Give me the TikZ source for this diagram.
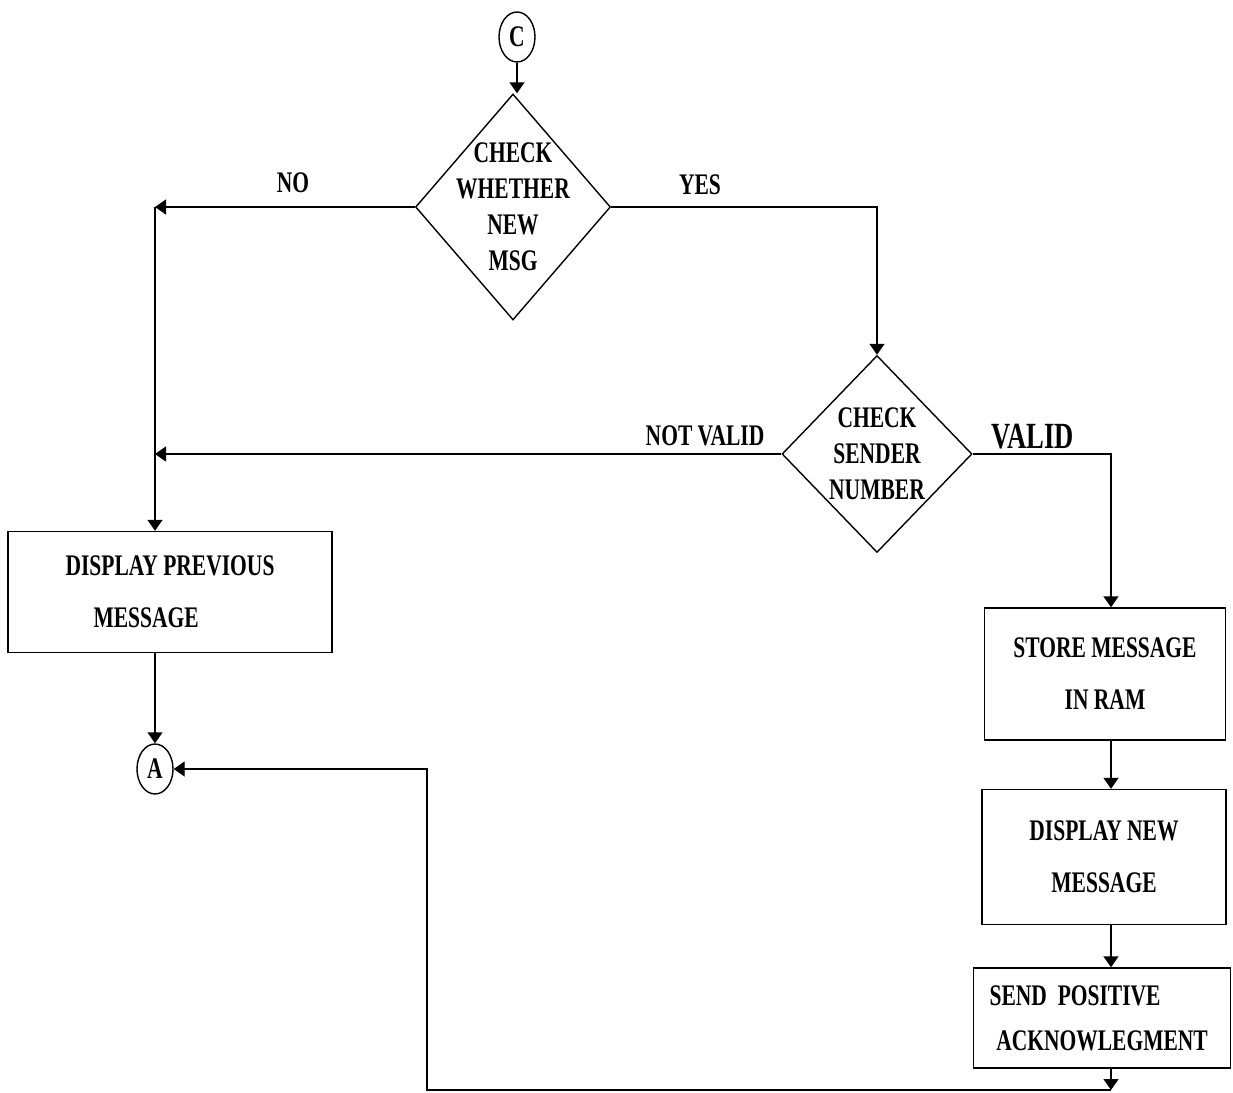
\documentclass[tikz,border=0pt]{standalone}
\usepackage{fontspec}
\setmainfont{Liberation Serif}[FakeStretch=0.72]
\usetikzlibrary{shapes.geometric,arrows.meta}

\tikzset{
  flowtext/.style={font=\fontsize{17}{20.5}\selectfont\bfseries},
  conn/.style={ellipse,draw,inner sep=0mm,minimum width=7.2mm,minimum height=10mm,flowtext},
  decision/.style={diamond,draw,inner sep=0mm},
  dtext/.style={align=center,inner sep=0mm,flowtext},
  flowbox/.style={rectangle,draw,inner sep=0mm,align=center,flowtext},
  lbl/.style={inner sep=0mm,flowtext}
}

\begin{document}
\begin{tikzpicture}[x=0.2mm,y=-0.2mm,line width=0.8pt,>={Triangle[length=2.2mm,width=3mm]}]
                \useasboundingbox (0,0) rectangle (1233,1093);
                \foreach \x/\y/\n/\t in {517/37/c/C, 155/769/a/A}
                \node[conn] (\n) at (\x,\y) {\t};
                \foreach \x/\y/\w/\h/\n/\t in {513/207/195/226/check/{CHECK\\WHETHER\\NEW\\MSG}, 877/454/190/197/sender/{CHECK\\SENDER\\NUMBER}}
                \node[decision,minimum width=\w*0.2mm,minimum height=\h*0.2mm,label={[dtext]center:\t}] (\n) at (\x,\y) {};
                \foreach \x/\y/\w/\h/\n/\t in {170/592/324/121/prev/{DISPLAY PREVIOUS\\[9pt]MESSAGE\hspace*{1.6em}}, 1105/674/241/132/store/{STORE MESSAGE\\[9pt]IN RAM}, 1104/857/244/135/shownew/{DISPLAY NEW\\[9pt]MESSAGE}, 1102/1018/257/100/send/{SEND\ \ POSITIVE\hspace*{1.8em}\\[5pt]ACKNOWLEGMENT}}
                \node[flowbox,minimum width=\w*0.2mm,minimum height=\h*0.2mm] (\n) at (\x,\y) {\t};
                \foreach \x/\y/\n/\t in {293/183/lno/NO, 700/185/lyes/YES, 705/436/lnotvalid/NOT VALID}
                \node[lbl] (\n) at (\x,\y) {\t};
                \node[lbl,font=\fontsize{21}{24}\selectfont\bfseries] (lvalid) at (1033,437) {VALID};

                \coordinate (leftrail) at (155,207);
                \coordinate (notvalidjoin) at (155,454);
                \coordinate (rightrail) at (1111,454);
                \coordinate (backbot) at (1111,1090);
                \coordinate (backup) at (427,769);

                \draw[->] (c) -- (c |- check.north);
                \draw[->] (check.west) -- (leftrail);
                \draw[->] (leftrail) -- (leftrail |- prev.north);
                \draw[->] (check.east) -| (sender.north);
                \draw[->] (sender.west) -- (notvalidjoin);
                \draw[->] (sender.east) -- (rightrail) -- (rightrail |- store.north);
                \draw[->] (leftrail |- prev.south) -- (a.north);
                \foreach \s/\t in {store/shownew, shownew/send}
                \draw[->] (rightrail |- \s.south) -- (rightrail |- \t.north);
                \draw[->] (rightrail |- send.south) -- (backbot);
                \draw[->] (backbot) -| (backup) -- (a.east);

            \end{tikzpicture}
\end{document}
